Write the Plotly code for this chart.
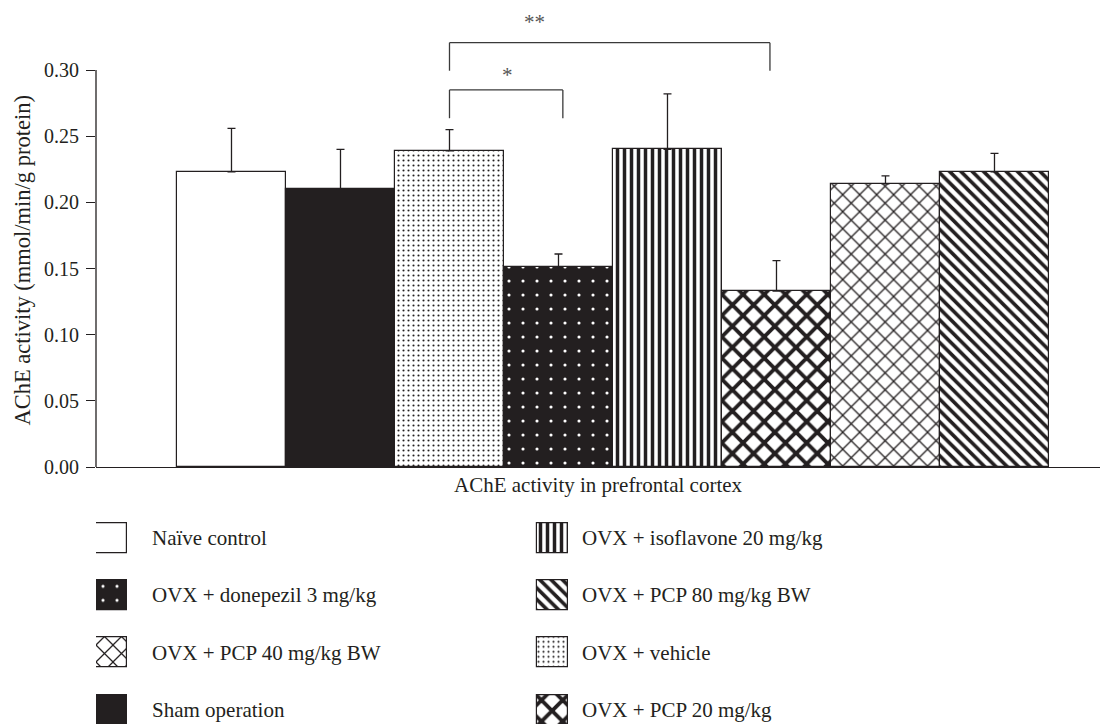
import plotly.graph_objects as go

# ---------------- data ----------------
groups = ["Naïve control", "Sham operation", "OVX + vehicle", "OVX + donepezil 3 mg/kg",
          "OVX + isoflavone 20 mg/kg", "OVX + PCP 20 mg/kg", "OVX + PCP 40 mg/kg BW",
          "OVX + PCP 80 mg/kg BW"]
means = [0.223, 0.210, 0.239, 0.151, 0.240, 0.133, 0.214, 0.223]
sems = [0.033, 0.030, 0.016, 0.010, 0.042, 0.023, 0.006, 0.014]
y_ticks = [0.00, 0.05, 0.10, 0.15, 0.20, 0.25, 0.30]
legend_order = ["Naïve control", "OVX + donepezil 3 mg/kg", "OVX + PCP 40 mg/kg BW", "Sham operation",
                "OVX + isoflavone 20 mg/kg", "OVX + PCP 80 mg/kg BW", "OVX + vehicle", "OVX + PCP 20 mg/kg"]
# significance brackets
sig_from = [2, 2]
sig_to = [3.04, 4.94]
sig_top = [0.285, 0.3207]
sig_bottom = [0.2636, 0.2995]
sig_label = ["*", "**"]
sig_label_x = [2.53, 2.78]
sig_label_y = [0.296, 0.336]

# ---------------- styles ----------------
INK = "#231f20"
FONT = "Liberation Serif"
FS = 21
p_shape = ["", "/", ".", ".", "|", "x", "x", "\\"]
p_fg = [INK, INK, INK, "white", INK, INK, INK, INK]
p_bg = ["white", INK, "white", INK, "white", "white", "white", "white"]
p_size = [8, 8, 5, 14, 7, 15, 12, 8]
p_sol = [0.3, 0.3, 0.14, 0.04, 0.5, 0.45, 0.2, 0.45]

fig = go.Figure()

fig.add_trace(go.Bar(
    x=groups, y=means, width=1,
    marker=dict(color="white", line=dict(color=INK, width=1.2),
                pattern=dict(shape=p_shape, fgcolor=p_fg, bgcolor=p_bg, size=p_size,
                             solidity=p_sol, fillmode="replace")),
    error_y=dict(type="data", symmetric=False, array=sems, arrayminus=[0] * len(sems),
                 color=INK, thickness=1.3, width=4),
    showlegend=False, xaxis="x", yaxis="y",
))

# legend swatches (a small bar chart in a hidden subplot)
idx = [groups.index(n) for n in legend_order]
cols = [i // 4 for i in range(len(legend_order))]
rows = [i % 4 for i in range(len(legend_order))]
SW_H = 0.524
fig.add_trace(go.Bar(
    x=cols, y=[SW_H] * len(idx), base=[r - SW_H / 2 for r in rows], width=0.0703,
    marker=dict(color="white", line=dict(color=INK, width=1.2),
                pattern=dict(shape=[p_shape[k] for k in idx], fgcolor=[p_fg[k] for k in idx],
                             bgcolor=[p_bg[k] for k in idx], size=[p_size[k] for k in idx],
                             solidity=[p_sol[k] for k in idx], fillmode="replace")),
    showlegend=False, xaxis="x2", yaxis="y2", hoverinfo="skip",
))

annotations = []
col_shift = [38, 27]
for name, c, r in zip(legend_order, cols, rows):
    annotations.append(dict(x=c, y=r, xref="x2", yref="y2", text=name, showarrow=False,
                            xanchor="left", yanchor="middle", xshift=col_shift[c],
                            font=dict(family=FONT, size=FS, color=INK)))

shapes = []
for a, b, t, btm in zip(sig_from, sig_to, sig_top, sig_bottom):
    for (x0, y0, x1, y1) in [(a, btm, a, t), (a, t, b, t), (b, t, b, btm)]:
        shapes.append(dict(type="line", xref="x", yref="y", x0=x0, x1=x1, y0=y0, y1=y1,
                           line=dict(color="#3a3a3a", width=1.3)))
for lx, ly, lt in zip(sig_label_x, sig_label_y, sig_label):
    annotations.append(dict(x=lx, y=ly, xref="x", yref="y", text=lt, showarrow=False,
                            xanchor="center", yanchor="middle",
                            font=dict(family=FONT, size=FS, color="#555555")))

# y axis line ending at 0.30
shapes.append(dict(type="line", xref="paper", yref="y", x0=0, x1=0, y0=0, y1=y_ticks[-1],
                   line=dict(color=INK, width=1.3)))

annotations.append(dict(x=-0.0727, y=0.156, xref="paper", yref="y",
                        text="AChE activity (mmol/min/g protein)", textangle=-90, showarrow=False,
                        xanchor="center", yanchor="middle",
                        font=dict(family=FONT, size=22.5, color=INK)))
annotations.append(dict(x=0.5, y=0.3338, xref="paper", yref="paper",
                        text="AChE activity in prefrontal cortex", showarrow=False,
                        xanchor="center", yanchor="middle",
                        font=dict(family=FONT, size=FS, color=INK)))

fig.update_layout(
    width=1110, height=716,
    margin=dict(l=88, r=18, t=0, b=0, autoexpand=False),
    paper_bgcolor="white", plot_bgcolor="white",
    bargap=0, barmode="overlay",
    font=dict(family=FONT, size=FS, color=INK),
    xaxis=dict(domain=[0, 1], anchor="y", range=[-1.243, 7.968], showline=True, linecolor=INK,
               linewidth=1.3, showticklabels=False, ticks="", showgrid=False, zeroline=False,
               automargin=False),
    yaxis=dict(domain=[0.3589, 1], anchor="x", range=[0, 0.3469], showline=False,
               tickvals=y_ticks, ticktext=[f"{v:.2f}" for v in y_ticks], ticks="outside",
               ticklen=9, tickwidth=1.3, tickcolor=INK, ticklabelstandoff=3,
               showgrid=False, zeroline=False, automargin=False,
               tickfont=dict(family=FONT, size=20, color=INK)),
    xaxis2=dict(domain=[0, 1], anchor="y2", range=[-0.03515, 2.2415], visible=False),
    yaxis2=dict(domain=[0, 0.2999], anchor="x2", range=[3.244, -0.5], visible=False),
    shapes=shapes, annotations=annotations,
)

fig.write_html("out.html")
